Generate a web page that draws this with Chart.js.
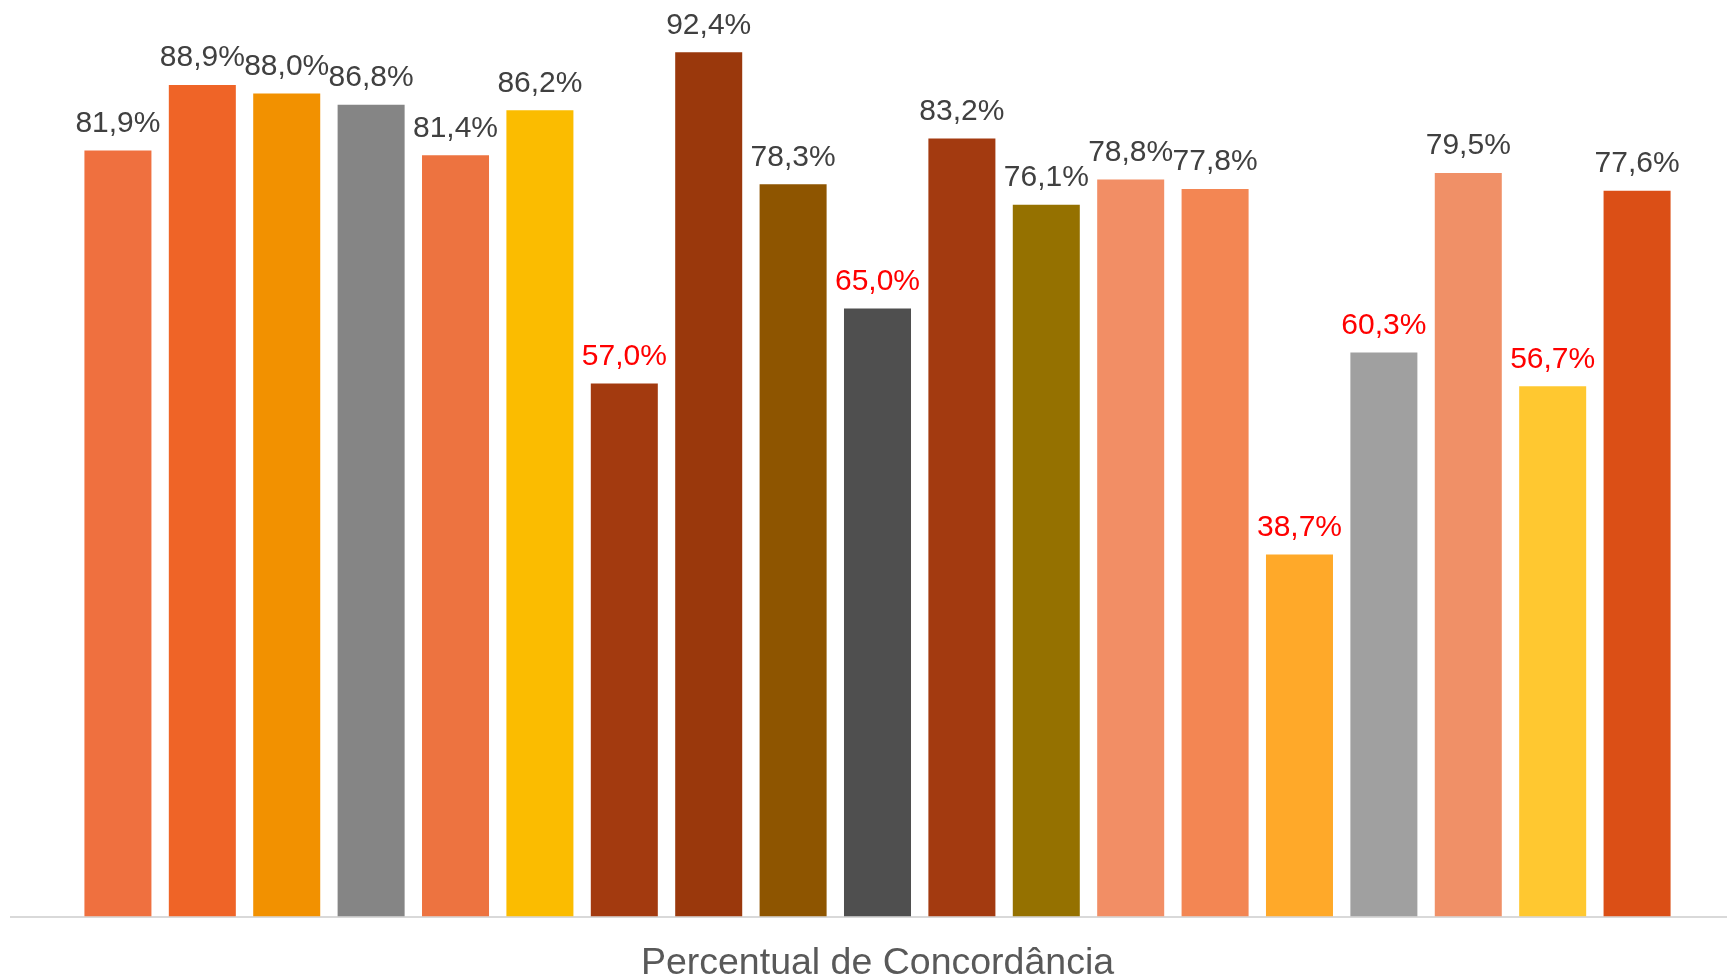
<!DOCTYPE html>
<html>
<head>
<meta charset="utf-8">
<script src="https://cdn.jsdelivr.net/npm/chart.js@4"></script>
<style>
  html, body { margin: 0; padding: 0; background: #fff; overflow: hidden; }
  #wrap { width: 1744px; height: 982px; position: relative; }
</style>
</head>
<body>
<div id="wrap"><canvas id="agreementChart"></canvas></div>
<script>
const category = ['Percentual de Concordância'];
const values = [81.9, 88.9, 88.0, 86.8, 81.4, 86.2, 57.0, 92.4, 78.3, 65.0, 83.2, 76.1, 78.8, 77.8, 38.7, 60.3, 79.5, 56.7, 77.6];
const barColors = ['#EF703F', '#EF6427', '#F29100', '#858585', '#ED7340', '#FBBC00', '#A33A0F', '#9A380C', '#8E5500', '#4F4F4F',
                   '#A33A10', '#957100', '#F28E65', '#F38653', '#FFA929', '#A0A0A0', '#F09067', '#FFC830', '#DB4F16'];
const yMax = 98;
const lowLimit = 70;

document.addEventListener('DOMContentLoaded', function () {
    const canvas = document.getElementById('agreementChart');
    const ctx = canvas.getContext('2d');

    const valueLabels = {
        id: 'valueLabels',
        afterDatasetsDraw(chart) {
            const c = chart.ctx;
            c.save();
            c.font = '30px "Liberation Sans", Arial, sans-serif';
            c.textAlign = 'center';
            c.textBaseline = 'middle';
            chart.data.datasets.forEach(function (ds, i) {
                const bar = chart.getDatasetMeta(i).data[0];
                const v = ds.data[0];
                c.fillStyle = v < lowLimit ? '#FF0000' : '#404040';
                c.fillText(v.toFixed(1).replace('.', ',') + '%', bar.x, bar.y - 27);
            });
            c.restore();
        }
    };

    new Chart(ctx, {
        type: 'bar',
        data: {
            labels: category,
            datasets: values.map(function (v, i) {
                return {
                    label: 'Item ' + (i + 1),
                    data: [v],
                    backgroundColor: barColors[i],
                    borderWidth: 0,
                    categoryPercentage: 0.9253,
                    barPercentage: 0.794
                };
            })
        },
        options: {
            responsive: true,
            maintainAspectRatio: false,
            animation: false,
            devicePixelRatio: 1,
            layout: { padding: { left: 11, top: 0, right: 0, bottom: 0 } },
            plugins: {
                legend: { display: false },
                tooltip: { enabled: false }
            },
            scales: {
                x: {
                    grid: { display: false, drawTicks: false },
                    border: { display: true, color: '#D9D9D9', width: 2 },
                    ticks: { display: false },
                    title: {
                        display: true,
                        text: category[0],
                        color: '#595959',
                        font: { family: '"Liberation Sans", Arial, sans-serif', size: 37.5, lineHeight: 1 },
                        padding: { top: 28, bottom: 0 }
                    }
                },
                y: {
                    display: false,
                    min: 0,
                    max: yMax
                }
            }
        },
        plugins: [valueLabels]
    });
});
</script>
</body>
</html>
